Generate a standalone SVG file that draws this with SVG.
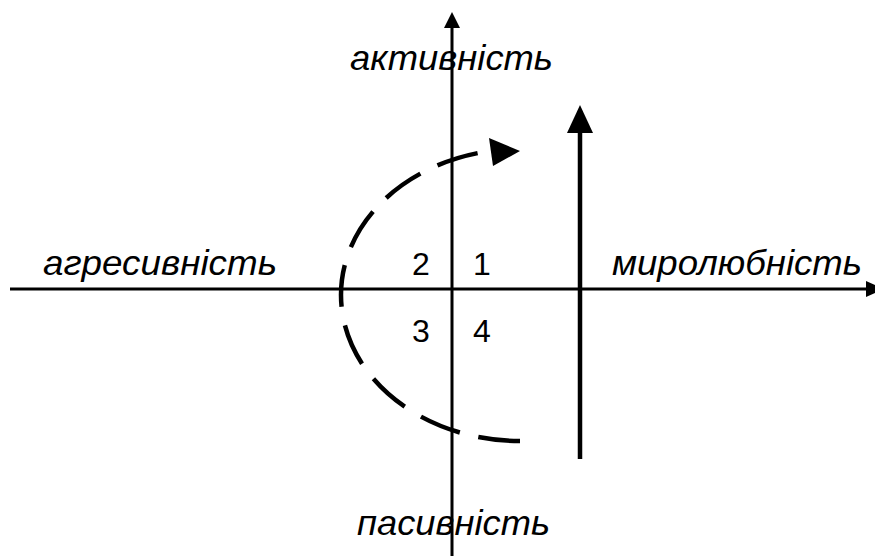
<svg xmlns="http://www.w3.org/2000/svg" width="875" height="556" viewBox="0 0 875 556">
<style>
.ax{stroke:#000;stroke-width:3;fill:none}
.lbl{font-family:"Liberation Sans",Arial,sans-serif;font-style:italic;font-size:35px;fill:#000}
.num{font-family:"Liberation Sans",Arial,sans-serif;font-size:32px;fill:#000;text-anchor:middle}
.head{fill:#000}
</style>
<rect width="875" height="556" fill="#fff"/>
<g id="connectors">
<line class="ax" x1="10" y1="289" x2="868" y2="289"/>
<polygon class="head" points="866,281 884,289 866,297"/>
<line class="ax" x1="452" y1="556" x2="452" y2="26"/>
<polygon class="head" points="444,28 452,12 460,28"/>
<line x1="580" y1="459" x2="580" y2="130" stroke="#000" stroke-width="4.5"/>
<polygon class="head" points="567,133 580,105 593,133"/>
<path d="M520 441 A179 146 0 0 1 341 295 A179 146 0 0 1 490 151" fill="none" stroke="#000" stroke-width="4.5" stroke-dasharray="42 19"/>
<polygon class="head" points="489,138 520,151 493,166"/>
</g>
<g id="top-label"><text class="lbl" x="350" y="70" textLength="203" lengthAdjust="spacingAndGlyphs">активність</text></g>
<g id="left-label"><text class="lbl" x="43" y="275" textLength="234" lengthAdjust="spacingAndGlyphs">агресивність</text></g>
<g id="right-label"><text class="lbl" x="612" y="275" textLength="250" lengthAdjust="spacingAndGlyphs">миролюбність</text></g>
<g id="bottom-label"><text class="lbl" x="357" y="535" textLength="193" lengthAdjust="spacingAndGlyphs">пасивність</text></g>
<g id="q1"><text class="num" x="482" y="275">1</text></g>
<g id="q2"><text class="num" x="421" y="275">2</text></g>
<g id="q3"><text class="num" x="421" y="342">3</text></g>
<g id="q4"><text class="num" x="482" y="342">4</text></g>
</svg>
